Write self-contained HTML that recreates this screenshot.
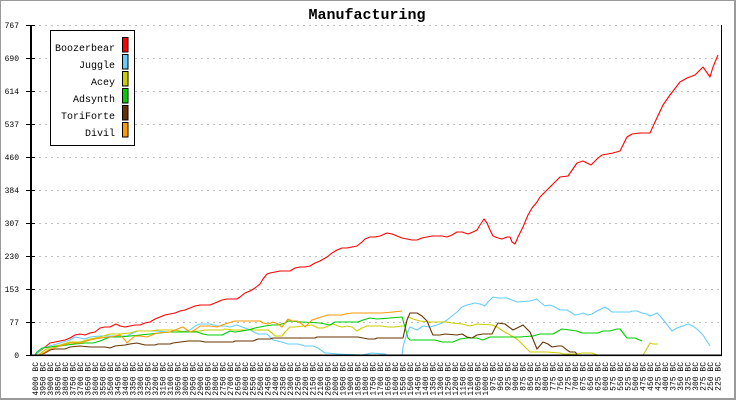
<!DOCTYPE html>
<html><head><meta charset="utf-8"><style>
html,body{margin:0;padding:0;width:736px;height:400px;overflow:hidden;background:#fff}
svg{display:block}
</style></head><body>
<svg width="736" height="400" viewBox="0 0 736 400" xmlns="http://www.w3.org/2000/svg" font-family="'Liberation Mono', 'DejaVu Sans Mono', monospace">
<rect x="0" y="0" width="736" height="400" fill="#9a9a9a"/>
<rect x="1" y="1" width="733" height="397" fill="#ffffff"/>
<text x="367" y="19" font-size="15" font-weight="bold" text-anchor="middle" fill="#000">Manufacturing</text>
<g stroke="#c0c0c0" stroke-width="1" stroke-dasharray="2 4">
<line x1="33" y1="25.5" x2="721" y2="25.5"/>
<line x1="33" y1="58.5" x2="721" y2="58.5"/>
<line x1="33" y1="91.5" x2="721" y2="91.5"/>
<line x1="33" y1="124.5" x2="721" y2="124.5"/>
<line x1="33" y1="157.5" x2="721" y2="157.5"/>
<line x1="33" y1="190.5" x2="721" y2="190.5"/>
<line x1="33" y1="223.5" x2="721" y2="223.5"/>
<line x1="33" y1="256.5" x2="721" y2="256.5"/>
<line x1="33" y1="289.5" x2="721" y2="289.5"/>
<line x1="33" y1="322.5" x2="721" y2="322.5"/>
</g>
<g stroke="#000" stroke-width="1">
<line x1="26" y1="25.5" x2="35" y2="25.5"/>
<line x1="26" y1="58.5" x2="35" y2="58.5"/>
<line x1="26" y1="91.5" x2="35" y2="91.5"/>
<line x1="26" y1="124.5" x2="35" y2="124.5"/>
<line x1="26" y1="157.5" x2="35" y2="157.5"/>
<line x1="26" y1="190.5" x2="35" y2="190.5"/>
<line x1="26" y1="223.5" x2="35" y2="223.5"/>
<line x1="26" y1="256.5" x2="35" y2="256.5"/>
<line x1="26" y1="289.5" x2="35" y2="289.5"/>
<line x1="26" y1="322.5" x2="35" y2="322.5"/>
<line x1="26" y1="355.5" x2="35" y2="355.5"/>
<line x1="721.5" y1="25" x2="721.5" y2="356"/>
</g>
<rect x="30" y="25" width="2" height="331" fill="#000"/>
<g font-size="8" fill="#000" text-anchor="end">
<text x="19" y="28">767</text>
<text x="19" y="61">690</text>
<text x="19" y="94">614</text>
<text x="19" y="127">537</text>
<text x="19" y="160">460</text>
<text x="19" y="193">384</text>
<text x="19" y="226">307</text>
<text x="19" y="259">230</text>
<text x="19" y="292">153</text>
<text x="19" y="325">77</text>
<text x="19" y="358">0</text>
</g>
<g fill="none" stroke-width="1.1" stroke-linejoin="round">
<polyline stroke="#ff0000" points="35,355 45,347 50,343 55,342 60,341 65,340 70,338 75,335 80,334 85,335 90,333 95,332 100,328 105,327 110,327 116,324 120,326 125,327 130,326 135,325 140,325 145,323 150,322 155,319 160,317 165,315 170,314 175,313 180,311 185,310 190,308 195,306 200,305 210,305 215,303 222,300 227,299 237,299 240,297 245,293 250,291 255,288 260,284 263,279 267,274 270,273 275,272 280,271 290,271 295,268 300,267 305,267 310,266 315,263 320,261 327,257 332,253 337,250 342,248 347,248 352,247 357,246 362,242 365,239 370,237 375,237 380,236 387,233 392,234 397,236 402,238 407,239 412,240 417,240 422,238 427,237 432,236 442,236 447,237 452,235 457,232 462,232 468,234 473,232 477,230 480,225 484,219 487,223 490,230 493,236 498,238 502,239 507,237 510,237 512,242 515,244 518,237 523,227 528,215 532,208 537,202 540,197 550,187 560,177 568,176 577,163 583,161 591,165 597,159 602,155 613,153 620,151 627,137 632,134 640,133 650,133 655,122 663,105 670,95 680,82 687,78 695,75 703,67 710,77 713,67 718,55"/>
<polyline stroke="#66ccff" points="35,355 43,348 50,346 60,343 70,340 75,337 80,338 85,339 90,337 100,336 110,336 120,336 127,336 133,333 138,331 148,331 157,331 167,332 177,332 187,331 190,330 195,326 200,324 210,324 218,326 225,326 230,327 237,325 242,327 248,329 258,334 267,334 273,340 282,342 288,344 298,344 305,346 313,346 318,348 325,353 328,353 338,354 362,355 367,354 372,353 385,354 387,355 402,355 403,347 407,333 410,327 417,330 423,326 430,327 437,325 442,323 447,320 452,316 457,312 462,307 467,305 475,303 480,304 485,306 488,302 493,297 498,298 507,298 512,300 517,302 530,301 537,299 540,302 545,306 550,305 555,307 560,310 567,310 572,313 575,315 580,314 583,313 588,315 592,314 597,311 605,307 608,309 612,312 630,312 632,311 637,311 642,313 647,314 650,316 655,314 657,313 660,316 665,322 672,331 677,328 683,326 688,324 693,326 698,330 703,335 710,346"/>
<polyline stroke="#cccc00" points="38,355 45,350 50,347 60,345 70,342 80,342 90,339 100,337 110,334 120,334 130,333 137,331 150,331 158,330 173,330 187,332 190,332 200,331 205,330 223,330 225,329 233,330 268,330 272,333 275,336 282,336 285,332 290,327 295,327 312,325 318,328 323,328 328,326 333,324 338,326 342,327 347,326 352,327 357,331 362,328 367,326 382,326 388,327 395,327 402,326 405,326 408,317 413,319 420,321 430,322 447,322 452,323 462,324 470,326 477,324 492,325 497,327 503,331 510,335 517,339 523,345 530,352 547,352 560,353 563,354 577,354 582,353 592,353 597,355 643,355 645,352 650,343 653,344 658,344"/>
<polyline stroke="#00cc00" points="35,355 37,352 42,348 50,347 60,346 67,345 75,344 85,343 93,343 100,341 110,337 120,337 130,336 140,335 150,334 160,333 170,332 183,332 197,332 203,334 208,335 222,335 230,331 235,332 242,331 248,330 255,328 265,326 272,325 278,325 285,323 288,321 302,322 320,323 325,324 330,325 335,322 358,322 363,320 370,318 377,319 390,318 402,317 405,327 408,338 410,340 435,340 442,342 453,342 460,339 467,338 477,338 483,340 490,337 513,337 520,337 533,336 540,334 553,334 560,330 562,329 577,331 582,333 598,333 603,331 610,331 617,329 620,329 623,333 627,338 635,338 642,341"/>
<polyline stroke="#663300" points="35,355 40,355 45,353 50,350 55,349 65,349 70,347 80,346 90,347 105,347 110,348 115,346 125,345 130,344 137,343 145,345 155,345 158,344 170,344 173,343 188,341 200,341 205,342 233,342 235,341 253,341 258,339 270,339 273,338 315,338 317,337 358,337 363,338 368,339 375,339 377,338 403,338 407,320 410,313 417,313 422,316 427,321 432,333 433,335 440,335 445,334 457,335 462,334 467,337 472,338 477,335 483,334 492,334 495,328 498,323 505,324 513,330 523,325 530,332 537,349 543,342 548,344 552,347 558,346 562,346 567,350 570,352 575,352 577,354"/>
<polyline stroke="#ff9900" points="35,355 40,355 45,352 50,349 60,346 70,343 80,343 90,340 100,338 110,337 120,335 125,340 127,343 130,340 135,336 140,336 147,337 152,335 157,333 170,332 175,330 180,328 183,327 187,330 190,332 195,330 200,326 210,326 217,327 225,324 235,321 260,321 263,323 268,324 273,322 278,324 282,327 288,319 292,321 297,321 302,324 305,327 312,320 318,318 328,315 342,315 345,314 352,313 373,313 382,313 393,312 402,311"/>
</g>
<rect x="30" y="354.5" width="692" height="1.6" fill="#000"/>
<rect x="50.5" y="30.5" width="84" height="115" fill="#fff" stroke="#000" stroke-width="1"/>
<g font-size="10" fill="#000" text-anchor="end">
<text x="115" y="51">Boozerbear</text>
<text x="115" y="68">Juggle</text>
<text x="115" y="85">Acey</text>
<text x="115" y="102">Adsynth</text>
<text x="115" y="119">ToriForte</text>
<text x="115" y="136">Divil</text>
</g>
<g stroke="#000" stroke-width="1">
<rect x="122.5" y="37.5" width="5.5" height="14.5" fill="#ff0000"/>
<rect x="122.5" y="54.5" width="5.5" height="14.5" fill="#66ccff"/>
<rect x="122.5" y="71.5" width="5.5" height="14.5" fill="#cccc00"/>
<rect x="122.5" y="88.5" width="5.5" height="14.5" fill="#00cc00"/>
<rect x="122.5" y="105.5" width="5.5" height="14.5" fill="#663300"/>
<rect x="122.5" y="122.5" width="5.5" height="14.5" fill="#ff9900"/>
</g>
<g font-size="8" fill="#000" text-anchor="end">
<text transform="translate(37.75,362) rotate(-90)">4000 BC</text>
<text transform="translate(45.25,362) rotate(-90)">3950 BC</text>
<text transform="translate(52.75,362) rotate(-90)">3900 BC</text>
<text transform="translate(60.25,362) rotate(-90)">3850 BC</text>
<text transform="translate(67.75,362) rotate(-90)">3800 BC</text>
<text transform="translate(75.25,362) rotate(-90)">3750 BC</text>
<text transform="translate(82.75,362) rotate(-90)">3700 BC</text>
<text transform="translate(90.25,362) rotate(-90)">3650 BC</text>
<text transform="translate(97.75,362) rotate(-90)">3600 BC</text>
<text transform="translate(105.25,362) rotate(-90)">3550 BC</text>
<text transform="translate(112.75,362) rotate(-90)">3500 BC</text>
<text transform="translate(120.25,362) rotate(-90)">3450 BC</text>
<text transform="translate(127.75,362) rotate(-90)">3400 BC</text>
<text transform="translate(135.25,362) rotate(-90)">3350 BC</text>
<text transform="translate(142.75,362) rotate(-90)">3300 BC</text>
<text transform="translate(150.25,362) rotate(-90)">3250 BC</text>
<text transform="translate(157.75,362) rotate(-90)">3200 BC</text>
<text transform="translate(165.25,362) rotate(-90)">3150 BC</text>
<text transform="translate(172.75,362) rotate(-90)">3100 BC</text>
<text transform="translate(180.25,362) rotate(-90)">3050 BC</text>
<text transform="translate(187.75,362) rotate(-90)">3000 BC</text>
<text transform="translate(195.25,362) rotate(-90)">2950 BC</text>
<text transform="translate(202.75,362) rotate(-90)">2900 BC</text>
<text transform="translate(210.25,362) rotate(-90)">2850 BC</text>
<text transform="translate(217.75,362) rotate(-90)">2800 BC</text>
<text transform="translate(225.25,362) rotate(-90)">2750 BC</text>
<text transform="translate(232.75,362) rotate(-90)">2700 BC</text>
<text transform="translate(240.25,362) rotate(-90)">2650 BC</text>
<text transform="translate(247.75,362) rotate(-90)">2600 BC</text>
<text transform="translate(255.25,362) rotate(-90)">2550 BC</text>
<text transform="translate(262.75,362) rotate(-90)">2500 BC</text>
<text transform="translate(270.25,362) rotate(-90)">2450 BC</text>
<text transform="translate(277.75,362) rotate(-90)">2400 BC</text>
<text transform="translate(285.25,362) rotate(-90)">2350 BC</text>
<text transform="translate(292.75,362) rotate(-90)">2300 BC</text>
<text transform="translate(300.25,362) rotate(-90)">2250 BC</text>
<text transform="translate(307.75,362) rotate(-90)">2200 BC</text>
<text transform="translate(315.25,362) rotate(-90)">2150 BC</text>
<text transform="translate(322.75,362) rotate(-90)">2100 BC</text>
<text transform="translate(330.25,362) rotate(-90)">2050 BC</text>
<text transform="translate(337.75,362) rotate(-90)">2000 BC</text>
<text transform="translate(345.25,362) rotate(-90)">1950 BC</text>
<text transform="translate(352.75,362) rotate(-90)">1900 BC</text>
<text transform="translate(360.25,362) rotate(-90)">1850 BC</text>
<text transform="translate(367.75,362) rotate(-90)">1800 BC</text>
<text transform="translate(375.25,362) rotate(-90)">1750 BC</text>
<text transform="translate(382.75,362) rotate(-90)">1700 BC</text>
<text transform="translate(390.25,362) rotate(-90)">1650 BC</text>
<text transform="translate(397.75,362) rotate(-90)">1600 BC</text>
<text transform="translate(405.25,362) rotate(-90)">1550 BC</text>
<text transform="translate(412.75,362) rotate(-90)">1500 BC</text>
<text transform="translate(420.25,362) rotate(-90)">1450 BC</text>
<text transform="translate(427.75,362) rotate(-90)">1400 BC</text>
<text transform="translate(435.25,362) rotate(-90)">1350 BC</text>
<text transform="translate(442.75,362) rotate(-90)">1300 BC</text>
<text transform="translate(450.25,362) rotate(-90)">1250 BC</text>
<text transform="translate(457.75,362) rotate(-90)">1200 BC</text>
<text transform="translate(465.25,362) rotate(-90)">1150 BC</text>
<text transform="translate(472.75,362) rotate(-90)">1100 BC</text>
<text transform="translate(480.25,362) rotate(-90)">1050 BC</text>
<text transform="translate(487.75,362) rotate(-90)">1000 BC</text>
<text transform="translate(495.25,362) rotate(-90)">975 BC</text>
<text transform="translate(502.75,362) rotate(-90)">950 BC</text>
<text transform="translate(510.25,362) rotate(-90)">925 BC</text>
<text transform="translate(517.75,362) rotate(-90)">900 BC</text>
<text transform="translate(525.25,362) rotate(-90)">875 BC</text>
<text transform="translate(532.75,362) rotate(-90)">850 BC</text>
<text transform="translate(540.25,362) rotate(-90)">825 BC</text>
<text transform="translate(547.75,362) rotate(-90)">800 BC</text>
<text transform="translate(555.25,362) rotate(-90)">775 BC</text>
<text transform="translate(562.75,362) rotate(-90)">750 BC</text>
<text transform="translate(570.25,362) rotate(-90)">725 BC</text>
<text transform="translate(577.75,362) rotate(-90)">700 BC</text>
<text transform="translate(585.25,362) rotate(-90)">675 BC</text>
<text transform="translate(592.75,362) rotate(-90)">650 BC</text>
<text transform="translate(600.25,362) rotate(-90)">625 BC</text>
<text transform="translate(607.75,362) rotate(-90)">600 BC</text>
<text transform="translate(615.25,362) rotate(-90)">575 BC</text>
<text transform="translate(622.75,362) rotate(-90)">550 BC</text>
<text transform="translate(630.25,362) rotate(-90)">525 BC</text>
<text transform="translate(637.75,362) rotate(-90)">500 BC</text>
<text transform="translate(645.25,362) rotate(-90)">475 BC</text>
<text transform="translate(652.75,362) rotate(-90)">450 BC</text>
<text transform="translate(660.25,362) rotate(-90)">425 BC</text>
<text transform="translate(667.75,362) rotate(-90)">400 BC</text>
<text transform="translate(675.25,362) rotate(-90)">375 BC</text>
<text transform="translate(682.75,362) rotate(-90)">350 BC</text>
<text transform="translate(690.25,362) rotate(-90)">325 BC</text>
<text transform="translate(697.75,362) rotate(-90)">300 BC</text>
<text transform="translate(705.25,362) rotate(-90)">275 BC</text>
<text transform="translate(712.75,362) rotate(-90)">250 BC</text>
<text transform="translate(720.25,362) rotate(-90)">225 BC</text>
</g>
</svg>
</body></html>
